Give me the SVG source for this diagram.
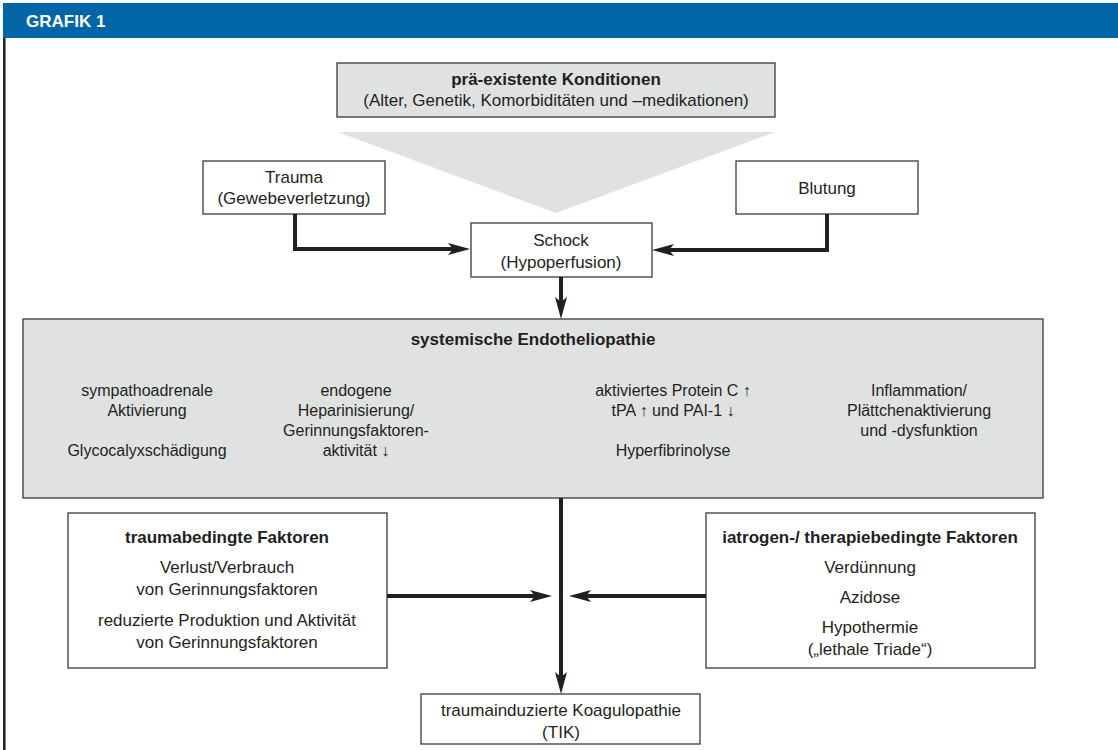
<svg xmlns="http://www.w3.org/2000/svg" width="1118" height="750" viewBox="0 0 1118 750">
<defs>
<style>
text{font-family:"Liberation Sans",Arial,sans-serif;fill:#231f20;text-anchor:middle;font-size:17px}
.b{font-weight:bold}
.s{font-size:16px}
.box{fill:#fff;stroke:#3a3a3a;stroke-width:1.3}
.gbox{fill:#e0e1e1;stroke:#3a3a3a;stroke-width:1.3}
.con{fill:none;stroke:#231f20;stroke-width:4;marker-end:url(#ah)}
</style>
<marker id="ah" markerUnits="userSpaceOnUse" markerWidth="24" markerHeight="14" refX="8" refY="6" orient="auto">
<path d="M0,0 L22,6 L0,12 L5,6 Z" fill="#231f20"/>
</marker>
</defs>
<rect width="1118" height="750" fill="#fff"/>
<g id="header">
<rect x="3" y="3" width="1115" height="35" fill="#0066a8"/>
<text x="26" y="27" class="b" style="fill:#fff;text-anchor:start">GRAFIK 1</text>
<line x1="4.3" y1="38" x2="4.3" y2="750" stroke="#231f20" stroke-width="2.5"/>
</g>
<polygon id="funnel" points="338,132 775,132 556,213" fill="#e0e1e1"/>
<g id="praeexistent">
<rect class="gbox" x="337" y="63" width="438" height="54"/>
<text x="556" y="85" class="b">prä-existente Konditionen</text>
<text x="556" y="106">(Alter, Genetik, Komorbiditäten und –medikationen)</text>
</g>
<g id="trauma">
<rect class="box" x="203" y="161" width="182" height="53"/>
<text x="294" y="183">Trauma</text>
<text x="294" y="204">(Gewebeverletzung)</text>
</g>
<g id="blutung">
<rect class="box" x="736" y="161" width="182" height="53"/>
<text x="827" y="194">Blutung</text>
</g>
<g id="schock">
<rect class="box" x="471" y="223" width="181" height="54"/>
<text x="561" y="246">Schock</text>
<text x="561" y="268">(Hypoperfusion)</text>
</g>
<g id="endotheliopathie">
<rect class="gbox" x="23" y="319" width="1020" height="179"/>
<text x="533" y="345" class="b">systemische Endotheliopathie</text>
<text class="s" x="147" y="396">sympathoadrenale</text>
<text class="s" x="147" y="416">Aktivierung</text>
<text class="s" x="147" y="456">Glycocalyxschädigung</text>
<text class="s" x="356" y="396">endogene</text>
<text class="s" x="356" y="416">Heparinisierung/</text>
<text class="s" x="356" y="436">Gerinnungsfaktoren-</text>
<text class="s" x="356" y="456">aktivität ↓</text>
<text class="s" x="673" y="396">aktiviertes Protein C ↑</text>
<text class="s" x="673" y="416">tPA ↑ und PAI-1 ↓</text>
<text class="s" x="673" y="456">Hyperfibrinolyse</text>
<text class="s" x="919" y="396">Inflammation/</text>
<text class="s" x="919" y="416">Plättchenaktivierung</text>
<text class="s" x="919" y="436">und -dysfunktion</text>
</g>
<g id="traumabedingt">
<rect class="box" x="68" y="513" width="319" height="155"/>
<text x="227" y="543" class="b">traumabedingte Faktoren</text>
<text x="227" y="573">Verlust/Verbrauch</text>
<text x="227" y="595">von Gerinnungsfaktoren</text>
<text x="227" y="626">reduzierte Produktion und Aktivität</text>
<text x="227" y="648">von Gerinnungsfaktoren</text>
</g>
<g id="iatrogen">
<rect class="box" x="706" y="513" width="329" height="155"/>
<text x="870" y="543" class="b">iatrogen-/ therapiebedingte Faktoren</text>
<text x="870" y="573">Verdünnung</text>
<text x="870" y="603">Azidose</text>
<text x="870" y="633">Hypothermie</text>
<text x="870" y="655">(„lethale Triade“)</text>
</g>
<g id="tik">
<rect class="box" x="421" y="694" width="279" height="50"/>
<text x="561" y="716">traumainduzierte Koagulopathie</text>
<text x="561" y="738">(TIK)</text>
</g>
<g id="connectors">
<path class="con" d="M295,214 V249 H456"/>
<path class="con" d="M827,214 V250 H666"/>
<path class="con" d="M561,277 V305"/>
<path class="con" d="M561,498 V680"/>
<path class="con" d="M387,596 H538"/>
<path class="con" d="M706,596 H583"/>
</g>
</svg>
